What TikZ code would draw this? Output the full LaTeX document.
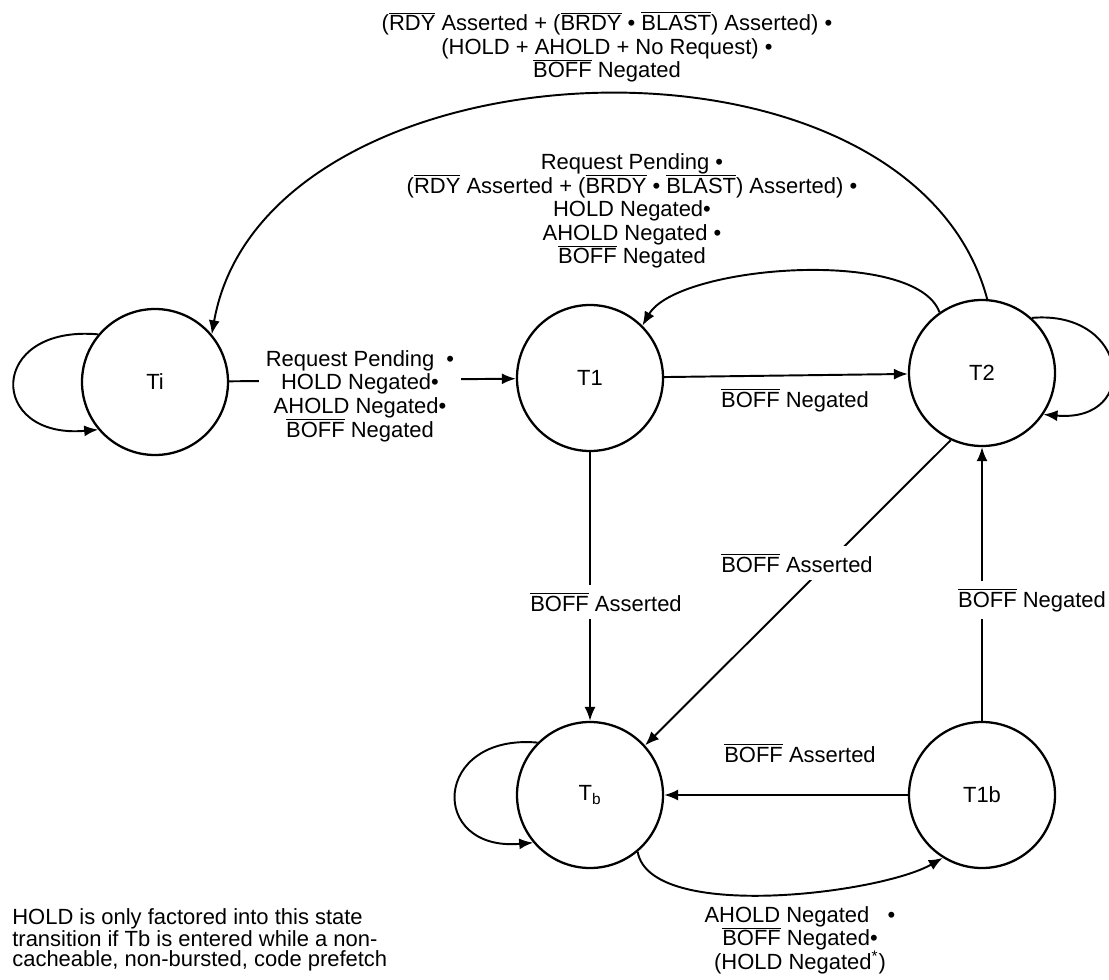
\documentclass[tikz,border=0pt]{standalone}
\usepackage{fontspec}
\setmainfont{Liberation Sans}
\usetikzlibrary{positioning, arrows.meta, calc}
\newcommand{\condfont}{\fontsize{12.5}{13.4}\selectfont}
\newcommand{\notefont}{\fontsize{12.5}{11.4}\selectfont}
\newcommand{\lowact}[1]{$\overline{\mbox{#1}}$}

\begin{document}
\begin{tikzpicture}[
    state/.style={circle, draw, line width=1.3pt, minimum size=2.92cm, inner sep=0pt, font=\condfont},
    edge/.style={-{Latex[length=2.8mm, width=2.2mm]}, line width=1.1pt},
    cond/.style={font=\condfont, align=center, inner sep=2pt},
    blank/.style={cond, fill=white, inner sep=4pt}
]
\useasboundingbox (0,0) rectangle (22.18,-19.58);

% States
\node[state] (Ti) at (3.10,-7.64) {Ti};
\node[state] (T1) at (11.80,-7.56) {T1};
\node[state] (T2) at (19.64,-7.46) {T2};
\node[state] (Tb) at (11.80,-15.90) {T\textsubscript{b}};
\node[state] (T1b) at (19.64,-15.90) {T1b};

% Edges
\draw[edge] (Ti) -- (T1);
\draw[edge] (T1) -- (T2);
\draw[edge] (T1) -- (Tb);
\draw[edge] (T2.-115) -- (Tb.42);
\draw[edge] (T1b) -- (T2);
\draw[edge] (T1b) -- (Tb);
\draw[edge] (T2.125) to[out=110, in=60, looseness=0.6] (T1.45);
\draw[edge] (T2.86) to[out=105, in=80, looseness=1] (Ti.40);
\draw[edge] (Tb.-50) to[out=-80, in=-150, looseness=0.6] (T1b.-122);

% Self loops
\draw[edge] (Ti.140) to[out=175, in=185, looseness=3] (Ti.220);
\draw[edge] (Tb.135) to[out=175, in=185, looseness=2.7] (Tb.220);
\draw[edge] (T2.48) to[out=5, in=-5, looseness=2.6] (T2.-34);

% Conditions
\node[cond] (c2i) at (12.14,-0.94) {(\lowact{RDY} Asserted + (\lowact{BRDY} • \lowact{BLAST}) Asserted) •\\
  (HOLD + A{}HOLD + No Request) •\\
  \lowact{BOFF} Negated};
\node[cond] (c21) at (12.64,-4.22) {Request Pending •\\
  (\lowact{RDY} Asserted + (\lowact{BRDY} • \lowact{BLAST}) Asserted) •\\
  HOLD Negated•\\
  A{}HOLD Negated •\\
  \lowact{BOFF} Negated};
\node[blank] (ci1) at (7.20,-7.92) {Request Pending~~•\\
  HOLD Negated•\\
  A{}HOLD Negated•\\
  \lowact{BOFF} Negated};
\node[cond] (c12) at (15.90,-8.00) {\lowact{BOFF} Negated};
\node[blank] (c1b) at (12.12,-12.04) {\lowact{BOFF} Asserted};
\node[blank] (c2b) at (15.94,-11.26) {\lowact{BOFF} Asserted};
\node[blank] (cx2) at (20.64,-12.00) {\lowact{BOFF} Negated};
\node[cond] (cxb) at (16.00,-15.06) {\lowact{BOFF} Asserted};
\node[cond] (cbx) at (16.00,-18.80) {A{}HOLD Negated~~~•\\
  \lowact{BOFF} Negated•\\
  (HOLD Negated\textsuperscript{*})};

% Footnote
\node[anchor=north west, align=left, inner sep=0pt, font=\notefont] (note) at (0.24,-18.16)
  {HOLD is only factored into this state\\
   transition if Tb is entered while a non-\\
   cacheable, non-bursted, code prefetch};

\end{tikzpicture}
\end{document}
